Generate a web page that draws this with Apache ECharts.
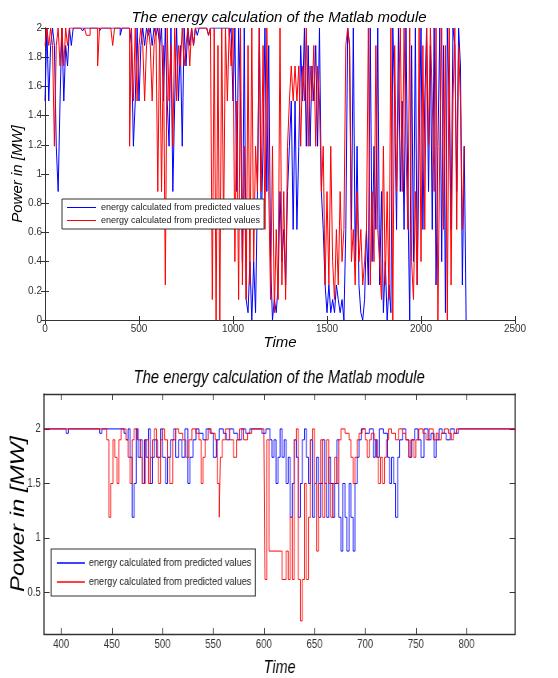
<!DOCTYPE html>
<html>
<head>
<meta charset="utf-8">
<script src="https://cdn.jsdelivr.net/npm/echarts@6/dist/echarts.min.js"></script>
<style>
  html, body { margin: 0; padding: 0; background: #fff; }
  #wrap { position: relative; width: 558px; height: 678px; overflow: hidden; }
  #top_chart { position: absolute; left: 0; top: 0; width: 558px; height: 362px; }
  /* bottom figure looks horizontally squeezed, so draw it wider and squeeze it */
  #bot_chart { position: absolute; left: 0; top: 350px; width: 698px; height: 328px;
               transform: scaleX(0.8); transform-origin: 0 0; }
</style>
</head>
<body>
<div id="wrap">
  <div id="top_chart"></div>
  <div id="bot_chart"></div>
</div>
<script>
// top panel: one value every 10 time units, starting at t = 0
var topStep = 10;
var topBlue = [
  1.5, 2, 1.5, 1.88, 2, 1.88, 1.19, 0.88, 1.5, 2,
  1.5, 1.88, 1.74, 2, 1.88, 2, 2, 2, 2, 2,
  1.98, 2, 2, 2, 2, 2, 2, 2, 2, 1.98,
  2, 2, 2, 2, 2, 2, 2, 2, 2, 2,
  1.95, 2, 2, 2, 2, 2, 1.88, 1.19, 1.5, 2,
  1.5, 1.88, 2, 1.88, 2, 1.95, 2, 1.88, 2, 1.95,
  2, 1.88, 2, 1.5, 2, 1.5, 1.19, 2, 0.88, 1.5,
  2, 1.5, 1.88, 1.19, 2, 1.74, 2, 1.88, 2, 1.88,
  2, 1.95, 2, 2, 2, 2, 2, 1.95, 2, 2,
  2, 2, 2, 2, 2, 2, 2, 2, 1.95, 2,
  1.5, 2, 0.88, 2, 1.5, 0.4, 2, 0.14, 0.05, 0.4,
  0, 0.4, 0.05, 0.88, 2, 0.62, 1.19, 2, 0.88, 1.88,
  0.4, 0, 0.14, 0.05, 0.24, 0.88, 0.4, 0.62, 0.24, 0.88,
  1.19, 1.5, 0.62, 1.5, 0.62, 1.19, 1.88, 1.5, 2, 1.19,
  1.88, 1.19, 1.74, 1.5, 1.88, 1.19, 2, 0.88, 0.62, 0.24,
  0.05, 0.24, 0.05, 0.14, 0.05, 0.24, 0.14, 0.05, 0.14, 0,
  0.62, 2, 1.88, 0.62, 2, 0.4, 1.19, 0.24, 0.05, 0,
  0.14, 0.62, 0.24, 2, 0.4, 1.19, 0.62, 2, 0.24, 0.88,
  0.05, 0.4, 0, 0.24, 0.05, 2, 1.5, 0.62, 2, 0.88,
  1.5, 0.62, 2, 0.88, 0, 1.88, 0.4, 2, 0.24, 1.19,
  2, 0.62, 1.5, 2, 0.88, 1.88, 0.62, 2, 0.24, 1.19,
  2, 0.4, 1.88, 0.05, 2, 1.5, 0.62, 2, 1.88, 0.88,
  2, 1.74, 0.24, 1.19, 0
];
var topRed = [
  1.88, 2, 1.88, 2, 1.88, 1.19, 1.88, 2, 1.74, 2,
  1.74, 2, 1.88, 2, 2, 2, 2, 2, 2, 2,
  2, 2, 1.95, 1.95, 2, 2, 2, 2, 1.74, 2,
  2, 2, 2, 2, 2, 2, 1.88, 2, 2, 2,
  2, 2, 2, 2, 2, 1.19, 2, 1.5, 2, 1.5,
  1.88, 2, 1.88, 1.5, 1.88, 2, 1.88, 1.5, 1.88, 2,
  0.88, 2, 0.88, 1.88, 0.24, 2, 1.5, 1.88, 1.19, 2,
  1.5, 1.88, 1.74, 2, 1.74, 1.88, 2, 1.74, 2, 1.88,
  2, 2, 2, 2, 2, 2, 2, 1.95, 2, 0.14,
  2, 0, 1.88, 0, 2, 0.62, 2, 1.5, 2, 1.74,
  2, 0.4, 1.5, 0.14, 2, 0.24, 1.19, 0.14, 1.88, 0.24,
  2, 0.4, 1.19, 0.88, 2, 0.88, 1.88, 0.62, 2, 0.88,
  0.14, 1.19, 0.05, 0.62, 0.14, 2, 0.24, 0.88, 0.14, 1.19,
  1.5, 1.74, 1.5, 1.74, 1.5, 1.74, 1.19, 1.74, 1.5, 2,
  1.19, 1.74, 1.5, 1.88, 1.19, 1.74, 1.5, 0.88, 1.19, 0.24,
  0.88, 0.24, 1.19, 0.4, 0.14, 0.62, 0.24, 0.88, 0.4, 0.62,
  1.88, 2, 1.88, 0.4, 0.62, 0.24, 0.88, 0.4, 0.62, 0.24,
  0.4, 0.62, 2, 0.24, 0.88, 0.4, 1.88, 0.62, 0.4, 0.14,
  1.19, 0.24, 0.88, 0.14, 2, 0, 1.88, 0.88, 1.5, 2,
  0.88, 2, 1.19, 0.62, 2, 0.4, 0.14, 0.88, 0.24, 2,
  0.4, 1.88, 0.62, 2, 1.19, 2, 1.5, 0.88, 2, 0,
  1.19, 2, 0.62, 1.88, 0, 2, 0.24, 1.5, 2, 0.62,
  1.88, 1.5, 0.62, 1.19
];

// bottom panel: breakpoints (time, value), value held until the next breakpoint
var botBlueT = [383, 405, 407, 438, 440, 462, 464, 466, 468, 470, 472, 474, 476, 478, 480, 482, 484, 486, 488, 490,
  492, 495, 498, 500, 503, 505, 508, 511, 513, 516, 519, 522, 525, 527, 530, 533, 536, 540, 543, 547,
  550, 553, 556, 560, 563, 566, 570, 574, 578, 582, 586, 598, 602, 606, 608, 610, 612, 614, 616, 618,
  620, 622, 624, 626, 628, 630, 632, 634, 636, 638, 640, 642, 644, 646, 648, 650, 652, 654, 656, 658,
  660, 662, 664, 666, 668, 670, 672, 674, 676, 678, 680, 682, 684, 686, 688, 690, 692, 694, 696, 700,
  704, 708, 710, 712, 714, 718, 722, 724, 726, 728, 730, 732, 734, 737, 740, 743, 746, 749, 752, 755,
  758, 762, 765, 768, 770, 773, 776, 780, 784, 788, 792, 848];
var botBlueV = [2, 1.96, 2, 1.96, 2, 1.96, 1.9, 2, 1.74, 1.19, 1.5, 2, 1.74, 1.9, 1.5, 1.9, 1.74, 2, 1.5, 1.74,
  1.9, 1.74, 2, 1.74, 1.5, 1.74, 1.9, 2, 1.74, 1.9, 1.74, 2, 1.5, 1.74, 1.9, 2, 1.96, 1.9, 2, 1.96,
  1.74, 1.9, 2, 1.96, 1.9, 2, 1.96, 1.9, 2, 1.96, 2, 1.96, 2, 1.9, 1.74, 1.9, 1.5, 1.74, 2, 1.74,
  1.9, 1.5, 1.74, 1.19, 1.5, 1.9, 1.74, 1.19, 1.5, 1.9, 2, 1.74, 1.5, 1.9, 1.19, 1.5, 1.74, 1.19, 1.5, 1.9,
  1.5, 1.19, 1.74, 1.5, 1.19, 1.5, 1.9, 1.19, 0.88, 1.5, 1.19, 0.88, 1.5, 1.19, 0.88, 1.5, 1.74, 1.9, 2, 1.96,
  2, 1.74, 1.9, 1.74, 2, 1.96, 1.74, 1.5, 1.74, 1.5, 1.19, 1.74, 1.9, 2, 1.9, 1.74, 1.9, 2, 1.9, 1.74,
  2, 1.9, 1.96, 1.74, 1.9, 2, 1.96, 1.9, 2, 1.96, 2, 2];

var botRedT = [383, 445, 447, 449, 451, 453, 455, 457, 459, 464, 466, 468, 470, 472, 475, 478, 480, 483, 486, 488,
  490, 492, 494, 496, 498, 500, 502, 505, 507, 510, 513, 516, 520, 523, 526, 529, 533, 536, 538, 540,
  542, 545, 548, 552, 554, 556, 557, 559, 562, 566, 570, 573, 576, 580, 584, 588, 600, 601, 603, 605,
  618, 622, 624, 626, 628, 630, 632, 634, 636, 638, 640, 642, 644, 646, 648, 650, 652, 654, 656, 658,
  660, 662, 664, 666, 668, 670, 672, 674, 676, 680, 684, 686, 688, 690, 692, 694, 697, 700, 702, 704,
  706, 709, 711, 713, 715, 717, 719, 721, 723, 726, 730, 733, 737, 740, 743, 745, 748, 750, 753, 757,
  760, 763, 767, 770, 772, 775, 778, 782, 785, 787, 790, 848];
var botRedV = [2, 1.9, 1.19, 1.5, 1.9, 1.74, 1.5, 1.9, 2, 1.9, 1.74, 1.5, 1.9, 2, 1.9, 1.74, 1.5, 1.9, 1.5, 1.74,
  1.9, 2, 1.74, 1.5, 1.9, 2, 1.9, 1.74, 1.5, 1.9, 2, 1.96, 1.9, 1.74, 1.9, 2, 1.96, 1.9, 1.5, 1.74,
  1.9, 2, 1.96, 1.9, 1.5, 1.19, 1.74, 1.9, 2, 1.9, 1.74, 1.9, 2, 1.9, 1.96, 2, 1.96, 0.62, 1.9, 0.88,
  0.62, 0.88, 0.62, 1.19, 0.62, 1.9, 2, 0.62, 0.24, 0.62, 1.5, 0.62, 1.19, 1.9, 2, 1.5, 0.88, 1.5, 1.9, 1.19,
  1.5, 1.9, 1.5, 1.19, 1.5, 1.74, 1.5, 1.9, 2, 1.96, 1.9, 1.74, 1.5, 1.74, 1.9, 1.96, 2, 1.9, 1.74, 1.9,
  1.96, 1.9, 1.74, 1.5, 1.74, 1.5, 1.74, 1.9, 2, 1.96, 1.9, 2, 1.96, 1.9, 1.74, 1.9, 1.74, 1.9, 2, 1.96,
  1.9, 2, 1.9, 1.96, 1.9, 1.96, 2, 1.96, 1.9, 1.96, 2, 2];

var botXTicks = [400, 450, 500, 550, 600, 650, 700, 750, 800];
var botYTicks = [0.5, 1, 1.5, 2];

var chartTitle = 'The energy calculation of the Matlab module';
var legendName = 'energy calculated from predicted values';
var BLUE = '#0000ff', RED = '#ff0000';
var sans = 'Liberation Sans, Arial, sans-serif';
var axisCol = '#333';

function toPairs(step, vals) {
  var out = [];
  for (var i = 0; i < vals.length; i++) out.push([i * step, vals[i]]);
  return out;
}
function zipPairs(ts, vs) {
  var out = [];
  for (var i = 0; i < ts.length; i++) out.push([ts[i], vs[i]]);
  return out;
}
function lineSeries(name, color, data) {
  return {
    name: name, type: 'line', data: data, step: 'end',
    symbol: 'none', showSymbol: false,
    lineStyle: { color: color, width: 1 }, itemStyle: { color: color },
    emphasis: { disabled: true }, silent: true
  };
}
function boxAxis(pos, min, max, extra) {
  // mirror axis on the top / right so the plot is boxed, ticks only
  var ax = {
    type: 'value', position: pos, min: min, max: max,
    axisLine: { show: true, lineStyle: { color: axisCol } },
    axisTick: { show: true, inside: true, length: 4, lineStyle: { color: axisCol } },
    axisLabel: { show: false }, splitLine: { show: false }
  };
  for (var k in extra) ax[k] = extra[k];
  return ax;
}

// ---------- top chart ----------
var top_echarts = echarts.init(document.getElementById('top_chart'), null, { renderer: 'canvas' });
top_echarts.setOption({
  animation: false,
  title: { text: chartTitle, left: 'center', top: 5,
    textStyle: { fontFamily: sans, fontStyle: 'italic', fontWeight: 'normal', fontSize: 15, color: '#000' } },
  legend: { data: [legendName, legendName + ' '], orient: 'vertical', left: 62, top: 199,
    formatter: function (n) { return n.trim(); },
    icon: 'rect', itemWidth: 29, itemHeight: 1, itemGap: 4, padding: [4, 4, 4, 5],
    borderColor: '#333', borderWidth: 1, backgroundColor: '#fff', selectedMode: false,
    textStyle: { fontFamily: sans, fontSize: 9, color: '#222' } },
  grid: { left: 45, right: 43, top: 28, height: 292, outerBoundsMode: 'none', containLabel: false },
  xAxis: [
    { type: 'value', min: 0, max: 2500, interval: 500,
      name: 'Time', nameLocation: 'middle', nameGap: 15, nameMoveOverlap: false,
      nameTextStyle: { fontFamily: sans, fontStyle: 'italic', fontSize: 15, color: '#000' },
      axisLine: { lineStyle: { color: axisCol } },
      axisTick: { inside: true, length: 4, lineStyle: { color: axisCol } },
      axisLabel: { fontFamily: sans, fontSize: 10, color: '#333', margin: 4,
        formatter: function (v) { return String(v); } },
      splitLine: { show: false } },
    boxAxis('top', 0, 2500, { interval: 500 })
  ],
  yAxis: [
    { type: 'value', min: 0, max: 2, interval: 0.2,
      name: 'Power in [MW]', nameLocation: 'middle', nameGap: 20, nameRotate: 90, nameMoveOverlap: false,
      nameTextStyle: { fontFamily: sans, fontStyle: 'italic', fontSize: 15, color: '#000' },
      axisLine: { lineStyle: { color: axisCol } },
      axisTick: { inside: true, length: 4, lineStyle: { color: axisCol } },
      axisLabel: { fontFamily: sans, fontSize: 10, color: '#333', margin: 3 },
      splitLine: { show: false } },
    boxAxis('right', 0, 2, { interval: 0.2 })
  ],
  series: [
    lineSeries(legendName, BLUE, toPairs(topStep, topBlue)),
    lineSeries(legendName + ' ', RED, toPairs(topStep, topRed))
  ]
});

// ---------- bottom chart (drawn 698 wide, squeezed to 558) ----------
var bot_echarts = echarts.init(document.getElementById('bot_chart'), null, { renderer: 'canvas' });
bot_echarts.setOption({
  animation: false,
  title: { text: chartTitle, left: 'center', top: 13,
    textStyle: { fontFamily: sans, fontStyle: 'italic', fontWeight: 'normal', fontSize: 18.5, color: '#000' } },
  legend: { data: [legendName, legendName + ' '], orient: 'vertical', left: 64, top: 199,
    formatter: function (n) { return n.trim(); },
    icon: 'rect', itemWidth: 35, itemHeight: 1.5, itemGap: 7, padding: [8, 5, 8, 7],
    borderColor: '#333', borderWidth: 1.2, backgroundColor: '#fff', selectedMode: false,
    textStyle: { fontFamily: sans, fontSize: 11.5, color: '#222' } },
  grid: { left: 55, right: 54, top: 44, height: 240, outerBoundsMode: 'none', containLabel: false },
  xAxis: [
    { type: 'value', min: 383, max: 848,
      name: 'Time', nameLocation: 'middle', nameGap: 25, nameMoveOverlap: false,
      nameTextStyle: { fontFamily: sans, fontStyle: 'italic', fontSize: 18, color: '#000' },
      axisLine: { lineStyle: { color: axisCol, width: 1.3 } },
      axisTick: { inside: true, length: 6, customValues: botXTicks, lineStyle: { color: axisCol } },
      axisLabel: { customValues: botXTicks, fontFamily: sans, fontSize: 12, color: '#333', margin: 5 },
      splitLine: { show: false } },
    boxAxis('top', 383, 848, {
      axisLine: { show: true, lineStyle: { color: axisCol, width: 1.3 } },
      axisTick: { show: true, inside: true, length: 6, customValues: botXTicks, lineStyle: { color: axisCol } } })
  ],
  yAxis: [
    { type: 'value', min: 0.12, max: 2.32,
      name: 'Power in [MW]', nameLocation: 'middle', nameGap: 20, nameRotate: 90, nameMoveOverlap: false,
      nameTextStyle: { fontFamily: sans, fontStyle: 'italic', fontSize: 24, color: '#000' },
      axisLine: { lineStyle: { color: axisCol, width: 1.5 } },
      axisTick: { inside: true, length: 7, customValues: botYTicks, lineStyle: { color: axisCol } },
      axisLabel: { customValues: botYTicks, fontFamily: sans, fontSize: 12, color: '#333', margin: 4 },
      splitLine: { show: false } },
    boxAxis('right', 0.12, 2.32, {
      axisLine: { show: true, lineStyle: { color: axisCol, width: 1.5 } },
      axisTick: { show: true, inside: true, length: 7, customValues: botYTicks, lineStyle: { color: axisCol } } })
  ],
  series: [
    lineSeries(legendName, BLUE, zipPairs(botBlueT, botBlueV)),
    lineSeries(legendName + ' ', RED, zipPairs(botRedT, botRedV))
  ]
});
</script>
</body>
</html>
